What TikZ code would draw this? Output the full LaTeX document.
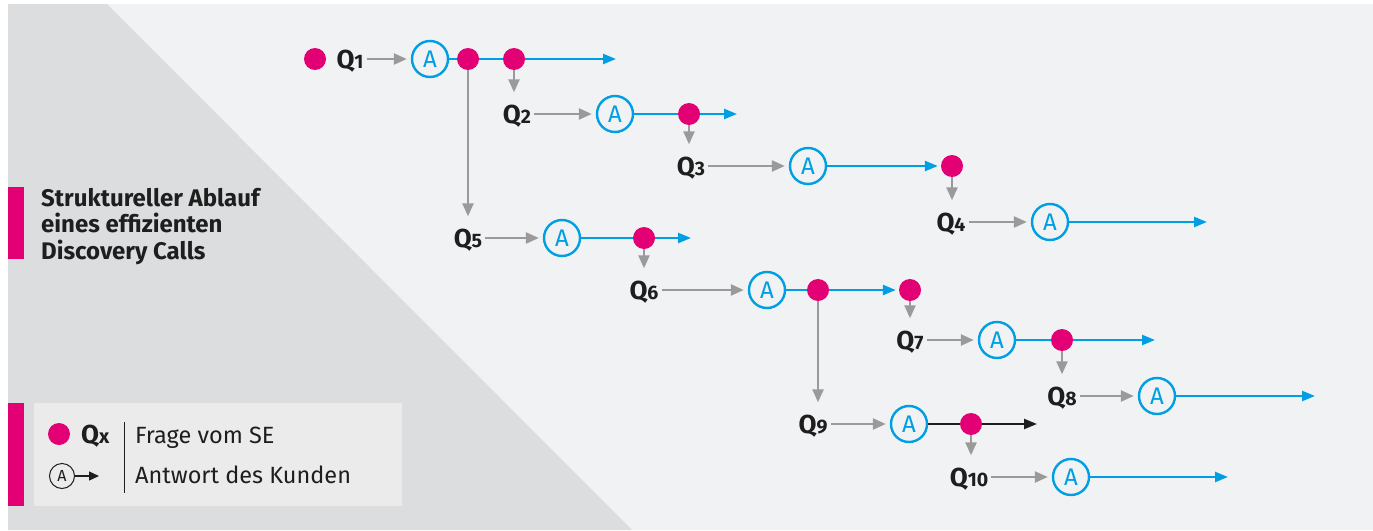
\documentclass[tikz,border=0pt]{standalone}
\usepackage{fontspec}
\setmainfont{Fira Sans}[Numbers=Lining]
\usetikzlibrary{arrows.meta,calc}
\definecolor{mag}{HTML}{E20074}
\definecolor{tblue}{HTML}{009FE3}
\definecolor{tgrey}{HTML}{9A9A9A}
\definecolor{bglight}{HTML}{F1F2F4}
\definecolor{bgdark}{HTML}{DCDDDF}
\definecolor{legbg}{HTML}{EBEBEB}
\definecolor{ink}{HTML}{1E1E1E}
\pgfdeclarelayer{back}
\pgfdeclarelayer{lines}
\pgfsetlayers{back,lines,main}
\newcommand\qlabel[1]{{\fontsize{26}{26}\selectfont\bfseries Q}{\fontsize{19.5}{19.5}\selectfont\bfseries #1}}
\begin{document}
\begin{tikzpicture}[x=1pt,y=-1pt,
  qdot/.style={circle,fill=mag,minimum size=22pt,inner sep=0pt},
  ans/.style={circle,draw=tblue,line width=2.4pt,minimum size=36pt,inner sep=0pt,text=tblue,font=\fontsize{24}{24}\selectfont},
  qlab/.style={inner sep=0pt,text height=18pt,text depth=0pt,text=ink},
  qarrow/.style={draw=tgrey,line width=2.4pt,-{Triangle[length=13pt,width=11pt]},shorten <=3pt,shorten >=4pt},
  droparrow/.style={draw=tgrey,line width=2.4pt,-{Triangle[length=13pt,width=11pt]},shorten >=12.5pt},
  bluearrow/.style={draw=tblue,line width=2.4pt,-{Triangle[length=13pt,width=10pt]}},
  blackarrow/.style={draw=ink,line width=2.4pt,-{Triangle[length=13pt,width=10pt]}},
  legtext/.style={anchor=west,inner sep=0pt,text height=16pt,text depth=0pt,text=ink,font=\fontsize{23.5}{23.5}\selectfont},
]
\useasboundingbox (0,0) rectangle (1373,530);
\begin{pgfonlayer}{back}
\fill[white] (0,0) rectangle (1373,530);
\fill[bglight] (8,4) rectangle (1373,530);
\fill[bgdark] (8,4) -- (107,4) -- (632,530) -- (8,530) -- cycle;
\end{pgfonlayer}

% title
\fill[mag] (8,187) rectangle (24,259);
\node[anchor=north west,align=left,inner sep=0pt,text=ink,font=\fontsize{24}{26.5}\selectfont\bfseries] (title) at (41,188) {Struktureller Ablauf\\eines effizienten\\Discovery Calls};

% legend
\fill[mag] (8,403) rectangle (24,506);
\fill[legbg] (34,403) rectangle (402,506);
\node[qdot] (ldot) at (59,434) {};
\node[qlab,anchor=west] (lq) at (81,434) {{\fontsize{26}{26}\selectfont\bfseries Q}{\fontsize{20}{20}\selectfont\bfseries x}};
\draw[ink,line width=1pt] (124,422) -- (124,493);
\node[legtext] (l1) at (135,435) {Frage vom SE};
\node[circle,draw=ink,line width=1pt,minimum size=25pt,inner sep=0pt,text=ink,font=\fontsize{16}{16}\selectfont] (la) at (62,476) {A};
\coordinate (lend) at (99,476);
\draw[ink,line width=1.3pt,-{Triangle[length=10pt,width=9pt]}] (la) -- (lend);
\node[legtext] (l2) at (135,475) {Antwort des Kunden};

% nodes
\node[qdot] (d0) at (315,59) {};
\node[qlab] (Q1) at (350,59) {\qlabel{1}};
\node[ans] (A1) at (430,59) {A};
\node[qdot] (d1a) at (468,59) {};
\node[qdot] (d1b) at (514,59) {};
\coordinate (e1) at (616,59);

\node[qlab] (Q2) at (517,114) {\qlabel{2}};
\node[ans] (A2) at (615,114) {A};
\node[qdot] (d2) at (689,114) {};
\coordinate (e2) at (737,114);

\node[qlab] (Q3) at (691,166) {\qlabel{3}};
\node[ans] (A3) at (808,166) {A};
\node[qdot] (d3) at (952,166) {};

\node[qlab] (Q4) at (951,222) {\qlabel{4}};
\node[ans] (A4) at (1050,222) {A};
\coordinate (e4) at (1207,222);

\node[qlab] (Q5) at (468,238) {\qlabel{5}};
\node[ans] (A5) at (562,238) {A};
\node[qdot] (d5) at (644,238) {};
\coordinate (e5) at (691,238);

\node[qlab] (Q6) at (644,290) {\qlabel{6}};
\node[ans] (A6) at (767,290) {A};
\node[qdot] (d6a) at (818,290) {};
\node[qdot] (d6b) at (910,290) {};

\node[qlab] (Q7) at (910,340) {\qlabel{7}};
\node[ans] (A7) at (997,340) {A};
\node[qdot] (d7) at (1062,340) {};
\coordinate (e7) at (1155,340);

\node[qlab] (Q8) at (1062,396) {\qlabel{8}};
\node[ans] (A8) at (1157,396) {A};
\coordinate (e8) at (1315,396);

\node[qlab] (Q9) at (813,424) {\qlabel{9}};
\node[ans] (A9) at (909,424) {A};
\node[qdot] (d9) at (971,424) {};
\coordinate (e9) at (1037,424);

\node[qlab] (Q10) at (969,477) {\qlabel{10}};
\node[ans] (A10) at (1071,477) {A};
\coordinate (e10) at (1228,477);

\begin{pgfonlayer}{lines}
% question -> answer
\foreach \i in {1,...,10} {\draw[qarrow] (Q\i.east) -- (A\i.west);}
% answer lines
\draw[bluearrow] (A1.east) -- (e1);
\draw[bluearrow] (A2.east) -- (e2);
\draw[bluearrow,shorten >=3pt] (A3.east) -- (d3.west);
\draw[bluearrow] (A4.east) -- (e4);
\draw[bluearrow] (A5.east) -- (e5);
\draw[bluearrow,shorten >=3pt] (A6.east) -- (d6b.west);
\draw[bluearrow] (A7.east) -- (e7);
\draw[bluearrow] (A8.east) -- (e8);
\draw[blackarrow] (A9.east) -- (e9);
\draw[bluearrow] (A10.east) -- (e10);
% drops to next question
\draw[droparrow] (d1b.center) -- (d1b |- Q2.north);
\draw[droparrow] (d2.center) -- (d2 |- Q3.north);
\draw[droparrow] (d3.center) -- (d3 |- Q4.north);
\draw[droparrow] (d1a.center) -- (d1a |- Q5.north);
\draw[droparrow] (d5.center) -- (d5 |- Q6.north);
\draw[droparrow] (d6b.center) -- (d6b |- Q7.north);
\draw[droparrow] (d7.center) -- (d7 |- Q8.north);
\draw[droparrow] (d6a.center) -- (d6a |- Q9.north);
\draw[droparrow] (d9.center) -- (d9 |- Q10.north);
\end{pgfonlayer}
\end{tikzpicture}
\end{document}
